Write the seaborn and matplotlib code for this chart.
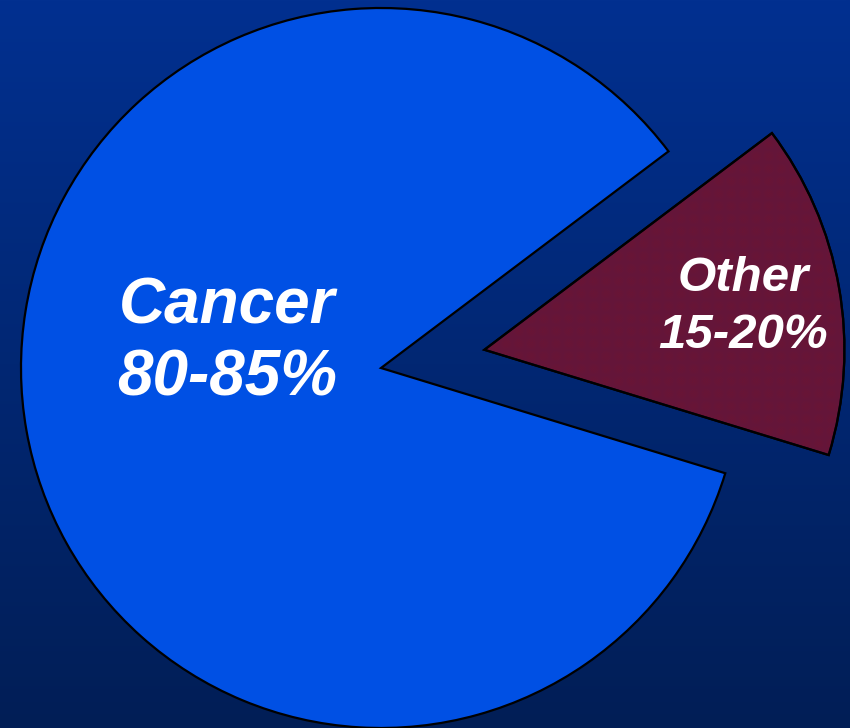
import numpy as np
import matplotlib
matplotlib.use("Agg")
import matplotlib.pyplot as plt
import seaborn as sns
from matplotlib.patches import Wedge

# Data
categories = ["Other", "Cancer"]
values = [15, 85]
label_names = ["Other", "Cancer"]
label_ranges = ["15-20%", "80-85%"]
colors = ["#7a1328", "#0050e4"]

sns.set_theme(style="white")
plt.rcParams["font.family"] = ["Liberation Sans", "DejaVu Sans"]
plt.rcParams["hatch.linewidth"] = 0.5

W, H = 850, 728
fig = plt.figure(figsize=(W / 100, H / 100), dpi=100)
ax = fig.add_axes([0, 0, 1, 1])

# background gradient
top = np.array([0x02, 0x30, 0x90]) / 255
bot = np.array([0x01, 0x1e, 0x56]) / 255
t = np.linspace(0, 1, 256)[:, None]
grad = (top[None, :] * (1 - t) + bot[None, :] * t)[:, None, :]
ax.imshow(grad, extent=(0, W, 0, H), aspect="auto", zorder=0)

radius = 360
center = (381, H - 368)
wedges, _ = ax.pie(values, colors=colors, startangle=-17, counterclock=True,
                   explode=[105, 0], radius=radius, center=center,
                   wedgeprops=dict(edgecolor="black", linewidth=1.6, zorder=2))
# fine dotted texture on "Other"
w0 = wedges[0]
hat = Wedge(w0.center, w0.r, w0.theta1, w0.theta2, facecolor="none",
            edgecolor="#3c1a5a", hatch="x" * 18, linewidth=0, zorder=2.5, alpha=0.35)
ax.add_patch(hat)
outline = Wedge(w0.center, w0.r, w0.theta1, w0.theta2, facecolor="none",
                edgecolor="black", linewidth=1.6, zorder=3)
ax.add_patch(outline)

ax.set_xlim(0, W)
ax.set_ylim(0, H)
ax.set_aspect("equal")
ax.axis("off")

# labels
txt = dict(color="white", fontweight="bold", fontstyle="italic",
           ha="center", va="baseline", zorder=5)
ax.text(227, H - 323, label_names[1], fontsize=46, **txt)
ax.text(227, H - 395, label_ranges[1], fontsize=46, **txt)
ax.text(743, H - 291, label_names[0], fontsize=35.5, **txt)
ax.text(743, H - 348, label_ranges[0], fontsize=35.5, **txt)

fig.savefig("out.png", dpi=100)
